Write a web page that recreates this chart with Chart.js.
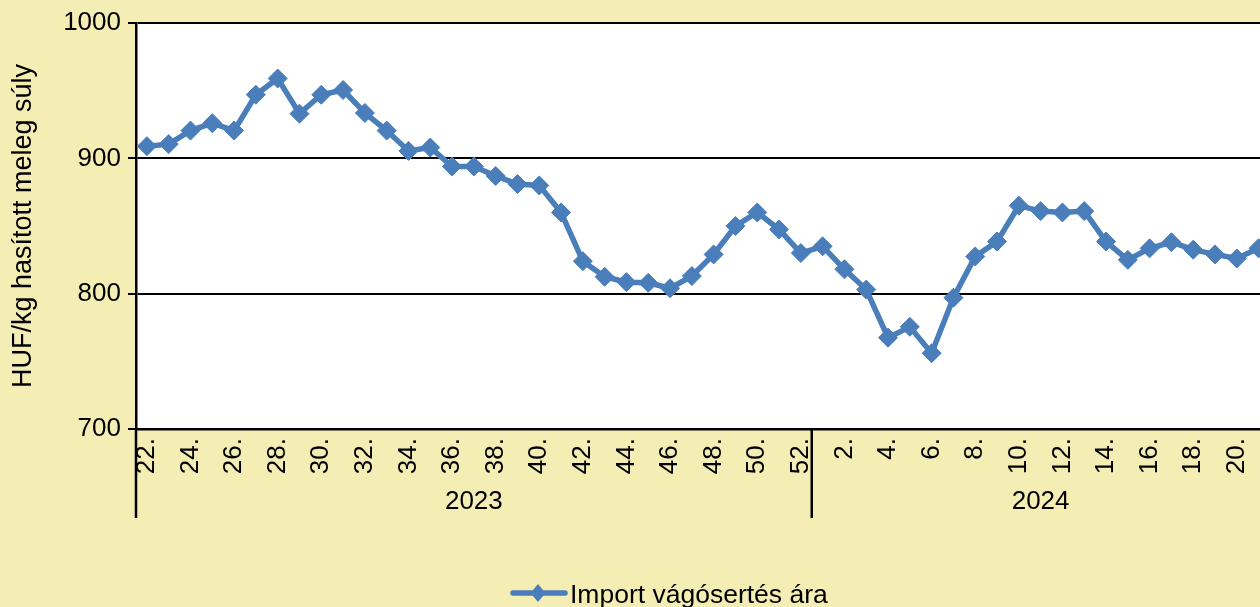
<!DOCTYPE html>
<html><head><meta charset="utf-8">
<script src="https://cdn.jsdelivr.net/npm/chart.js@4.4.1/dist/chart.umd.min.js"></script>
<style>
html,body{margin:0;padding:0;background:#F4EEB4;overflow:hidden;width:1260px;height:607px;}
#wrap{position:absolute;left:0;top:0;width:1280px;height:607px;}
canvas{display:block;}
</style></head><body>
<div id="wrap"><canvas id="c" width="1280" height="607"></canvas></div>
<script>
const weeks2023 = ['22.','23.','24.','25.','26.','27.','28.','29.','30.','31.','32.','33.','34.','35.','36.','37.','38.','39.','40.','41.','42.','43.','44.','45.','46.','47.','48.','49.','50.','51.','52.'];
const weeks2024 = ['1.','2.','3.','4.','5.','6.','7.','8.','9.','10.','11.','12.','13.','14.','15.','16.','17.','18.','19.','20.','21.'];
const years = ['2023', '2024'];
const prices2023 = [909, 910.5, 920.5, 926, 920.5, 947, 959, 933, 947, 950.5, 933.5, 920.5, 905.5, 908, 894, 894, 887, 881, 880, 860, 824, 812.5, 808.5, 808, 804, 813, 829, 850, 860, 847.5, 830];
const prices2024 = [835, 818, 803, 767.5, 775.5, 756, 797, 827.5, 838.5, 865, 861, 860, 861, 838.5, 825, 833.5, 838, 832.5, 829, 826, 833.5];
const yTicks = [700, 800, 900, 1000];
const seriesName = 'Import vágósertés ára';
const yTitle = 'HUF/kg hasított meleg súly';

const labels = weeks2023.concat(weeks2024);
const values = prices2023.concat(prices2024);
const FONT = 'Liberation Sans, Arial, sans-serif';
const BG = '#F4EEB4';
const LINE = '#4A7EBB';

const bgPlugin = {
  id: 'bg',
  beforeDraw(chart) {
    const {ctx, chartArea: a} = chart;
    ctx.save();
    ctx.fillStyle = BG;
    ctx.fillRect(0, 0, chart.width, chart.height);
    ctx.fillStyle = '#fff';
    ctx.fillRect(a.left, a.top, a.right - a.left, a.bottom - a.top);
    ctx.restore();
  }
};

const groupPlugin = {
  id: 'groups',
  afterDraw(chart) {
    const {ctx, chartArea: a} = chart;
    const xs = chart.scales.x;
    const n1 = weeks2023.length;
    const boundary = (xs.getPixelForValue(n1 - 1) + xs.getPixelForValue(n1)) / 2;
    const edges = [a.left, boundary, a.right];
    ctx.save();
    ctx.strokeStyle = '#000';
    ctx.lineWidth = 2.5;
    edges.forEach(x => {
      ctx.beginPath();
      ctx.moveTo(x, a.bottom);
      ctx.lineTo(x, a.bottom + 89);
      ctx.stroke();
    });
    ctx.fillStyle = '#000';
    ctx.font = '26px ' + FONT;
    ctx.textAlign = 'center';
    ctx.textBaseline = 'middle';
    ctx.fillText(years[0], (edges[0] + edges[1]) / 2, a.bottom + 73);
    ctx.fillText(years[1], (edges[1] + edges[2]) / 2, a.bottom + 73);

    // legend
    const ly = 593;
    ctx.strokeStyle = LINE;
    ctx.lineWidth = 5.5;
    ctx.lineCap = 'round';
    ctx.beginPath();
    ctx.moveTo(513, ly);
    ctx.lineTo(565, ly);
    ctx.stroke();
    ctx.fillStyle = LINE;
    ctx.beginPath();
    ctx.moveTo(538, ly - 9);
    ctx.lineTo(545.5, ly);
    ctx.lineTo(538, ly + 9);
    ctx.lineTo(530.5, ly);
    ctx.closePath();
    ctx.fill();
    ctx.fillStyle = '#000';
    ctx.font = '26.5px ' + FONT;
    ctx.textAlign = 'left';
    ctx.textBaseline = 'alphabetic';
    ctx.fillText(seriesName, 570, 603);
    ctx.restore();
  }
};

new Chart(document.getElementById('c'), {
  type: 'line',
  data: {
    labels: labels,
    datasets: [{
      label: seriesName,
      data: values,
      borderColor: LINE,
      backgroundColor: LINE,
      borderWidth: 5.5,
      tension: 0,
      pointStyle: 'rectRot',
      pointRadius: 9.5,
      pointBorderWidth: 1,
      pointBorderColor: LINE,
      pointBackgroundColor: LINE,
      fill: false
    }]
  },
  options: {
    responsive: false,
    animation: false,
    devicePixelRatio: 1,
    layout: {padding: {left: 0, right: 2, top: 23, bottom: 0}},
    plugins: {legend: {display: false}, tooltip: {enabled: false}},
    scales: {
      x: {
        offset: true,
        grid: {display: false, drawTicks: false},
        border: {display: true, color: '#000', width: 2.5},
        ticks: {
          autoSkip: false, minRotation: 90, maxRotation: 90, padding: 9,
          color: '#000', font: {family: FONT, size: 26},
          callback: (v, i) => (i % 2 === 0 ? labels[i] : '')
        },
        afterFit: s => { s.height = 178; s.paddingLeft = 0; s.paddingRight = 0; }
      },
      y: {
        min: 700, max: 1000,
        afterBuildTicks: s => { s.ticks = yTicks.map(v => ({value: v})); },
        grid: {color: '#000', lineWidth: 2, tickLength: 8, drawTicks: true},
        border: {display: true, color: '#000', width: 2.5},
        ticks: {padding: 7, color: '#000', font: {family: FONT, size: 26}, callback: v => String(v)},
        title: {display: true, text: yTitle, color: '#000', font: {family: FONT, size: 27}, padding: {top: 7, bottom: 0}},
        afterFit: s => { s.width = 136; }
      }
    }
  },
  plugins: [bgPlugin, groupPlugin]
});
</script>
</body></html>
